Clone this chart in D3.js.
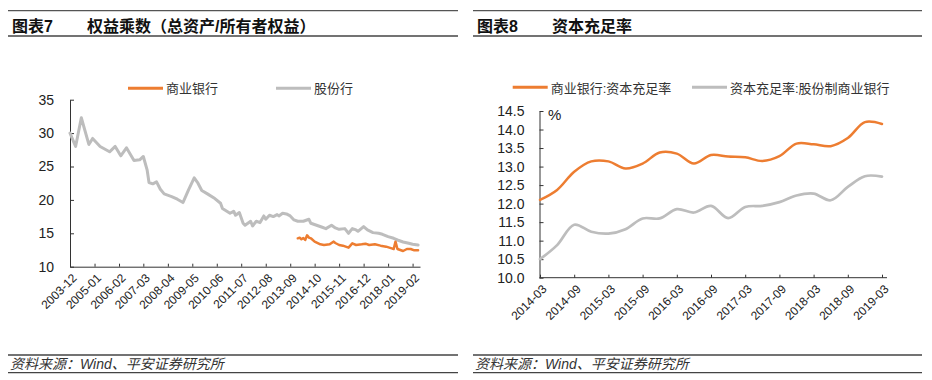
<!DOCTYPE html>
<html><head><meta charset="utf-8">
<script src="https://cdn.jsdelivr.net/npm/d3@7"></script>
<style>
html,body{margin:0;padding:0;background:#fff;}
svg{display:block;}
text{font-family:"Liberation Sans",Arial,"Noto Sans CJK SC",sans-serif;}
</style></head><body>
<svg id="c" width="932" height="380"></svg>
<script>
// ---------- Chart 7 data (monthly) ----------
const stockMonths = ["2003-12","2004-03","2004-06","2004-10","2004-12","2005-04","2005-09","2005-12","2006-03","2006-06","2006-10","2007-01","2007-03","2007-05","2007-06","2007-08","2007-10","2007-12","2008-02","2008-06","2008-09","2008-12","2009-03","2009-06","2009-08","2009-10","2010-01","2010-05","2010-08","2010-09","2011-01","2011-03","2011-04","2011-06","2011-08","2011-09","2011-12","2012-01","2012-03","2012-05","2012-07","2012-08","2012-10","2012-12","2013-02","2013-03","2013-05","2013-07","2013-09","2013-11","2014-01","2014-04","2014-07","2014-08","2014-11","2015-02","2015-04","2015-07","2015-09","2015-11","2016-02","2016-04","2016-06","2016-08","2016-09","2016-12","2017-02","2017-05","2017-08","2017-10","2018-01","2018-04","2018-06","2018-09","2018-12","2019-02","2019-05"];
const stockValues = [30.0,28.0,32.3,28.3,29.2,28.0,27.2,28.0,26.6,27.8,25.9,26.0,26.5,24.5,22.6,22.4,22.7,21.6,20.9,20.5,20.1,19.6,21.5,23.3,22.5,21.4,20.9,20.2,19.5,18.7,18.0,18.3,17.7,18.1,16.5,16.2,16.8,16.1,16.8,16.6,17.6,17.1,17.7,17.5,17.8,17.6,18.0,17.9,17.6,17.0,16.8,16.8,17.1,16.5,16.2,15.9,15.7,16.2,15.8,15.6,15.7,15.0,15.7,15.5,15.3,16.0,15.5,15.1,15.0,14.85,14.5,14.25,14.0,13.7,13.5,13.35,13.25];
const commMonths = ["2014-01","2014-02","2014-03","2014-04","2014-05","2014-06","2014-07","2014-08","2014-10","2015-01","2015-03","2015-06","2015-08","2015-09","2015-11","2016-01","2016-04","2016-06","2016-08","2016-11","2017-01","2017-03","2017-06","2017-09","2017-12","2018-03","2018-04","2018-05","2018-06","2018-09","2018-11","2019-01","2019-03","2019-05"];
const commValues = [14.25,14.35,14.1,14.3,14.0,14.7,14.35,14.25,13.75,13.35,13.25,13.35,13.75,13.55,13.25,13.15,12.85,13.5,13.25,13.35,13.45,13.25,13.35,13.15,13.0,12.75,12.65,13.75,12.65,12.35,12.65,12.65,12.45,12.45];
const leftTickLabels = ["2003-12","2005-01","2006-02","2007-03","2008-04","2009-05","2010-06","2011-07","2012-08","2013-09","2014-10","2015-11","2016-12","2018-01","2019-02"];
const leftYTicks = [10,15,20,25,30,35];

// ---------- Chart 8 data (quarterly) ----------
const quarters = ["2014-03","2014-06","2014-09","2014-12","2015-03","2015-06","2015-09","2015-12","2016-03","2016-06","2016-09","2016-12","2017-03","2017-06","2017-09","2017-12","2018-03","2018-06","2018-09","2018-12","2019-03"];
const carComm = [12.1,12.37,12.86,13.14,13.14,12.95,13.08,13.38,13.35,13.08,13.31,13.27,13.25,13.15,13.28,13.62,13.6,13.55,13.77,14.2,14.15];
const carStock = [10.5,10.88,11.43,11.24,11.19,11.31,11.6,11.6,11.85,11.76,11.94,11.61,11.91,11.94,12.04,12.22,12.27,12.09,12.45,12.74,12.73];
const rightTickLabels = ["2014-03","2014-09","2015-03","2015-09","2016-03","2016-09","2017-03","2017-09","2018-03","2018-09","2019-03"];
const rightYTicks = [10,10.5,11,11.5,12,12.5,13,13.5,14,14.5];

const ORANGE = "#ED7D31", GRAY = "#BDBDBD", INK = "#222";
const svg = d3.select("#c");
const parseM = d3.timeParse("%Y-%m");

// ---------- frames: titles and footers ----------
function frame(x0, x1, fig, title) {
  svg.append("line").attr("x1",x0).attr("x2",x1).attr("y1",10.7).attr("y2",10.7).attr("stroke","#555").attr("stroke-width",1.2);
  svg.append("line").attr("x1",x0).attr("x2",x1).attr("y1",36).attr("y2",36).attr("stroke","#444").attr("stroke-width",1.4);
  svg.append("text").attr("x",x0+4).attr("y",32).attr("font-size",16).attr("font-weight","bold").attr("fill","#111").text(fig);
  svg.append("text").attr("x",x0+79).attr("y",32).attr("font-size",16).attr("font-weight","bold").attr("fill","#111").text(title);
  svg.append("line").attr("x1",x0).attr("x2",x1).attr("y1",355).attr("y2",355).attr("stroke","#444").attr("stroke-width",1.4);
  svg.append("line").attr("x1",x0).attr("x2",x1).attr("y1",372.7).attr("y2",372.7).attr("stroke","#444").attr("stroke-width",1.2);
  svg.append("text").attr("x",x0+2).attr("y",369).attr("font-size",14).attr("font-style","italic").attr("fill","#333").text("资料来源：Wind、平安证券研究所");
}
frame(8, 458, "图表7", "权益乘数（总资产/所有者权益）");
frame(473, 922, "图表8", "资本充足率");

function styleAxis(g, size) {
  g.attr("font-size", null).attr("font-family", null);
  g.selectAll("path,line").attr("stroke", "#333");
  g.selectAll("text").attr("fill", INK).attr("font-size", size);
}

// ---------- Chart 7 ----------
const xL = d3.scaleTime().domain([parseM("2003-12"), parseM("2019-06")]).range([70, 420]);
const yL = d3.scaleLinear().domain([10, 35]).range([266.7, 99.7]);

const gLX = svg.append("g").attr("transform","translate(0,266.7)")
  .call(d3.axisBottom(xL).tickValues(leftTickLabels.map(parseM)).tickFormat(d3.timeFormat("%Y-%m")).tickSizeInner(-3).tickSizeOuter(0));
styleAxis(gLX, 12);
gLX.selectAll("text").attr("x",0).attr("y",0).attr("dy",0).attr("text-anchor","end").attr("transform","translate(7,12) rotate(-45)");

const gLY = svg.append("g").attr("transform","translate(70,0)")
  .call(d3.axisLeft(yL).tickValues(leftYTicks).tickSizeInner(-4).tickSizeOuter(0).tickPadding(16));
styleAxis(gLY, 14);

const lineL = d3.line().x(d => xL(d[0])).y(d => yL(d[1]));
svg.append("path").attr("d", lineL(stockMonths.map((m,i) => [parseM(m), stockValues[i]])))
  .attr("fill","none").attr("stroke",GRAY).attr("stroke-width",3).attr("stroke-linejoin","round").attr("stroke-linecap","round");
svg.append("path").attr("d", lineL(commMonths.map((m,i) => [parseM(m), commValues[i]])))
  .attr("fill","none").attr("stroke",ORANGE).attr("stroke-width",2.5).attr("stroke-linejoin","round").attr("stroke-linecap","round");

// legend 7
const legL = [["商业银行", ORANGE, 128], ["股份行", GRAY, 276]];
legL.forEach(([t,c,x]) => {
  svg.append("line").attr("x1",x).attr("x2",x+35).attr("y1",88.3).attr("y2",88.3).attr("stroke",c).attr("stroke-width",3);
  svg.append("text").attr("x",x+38).attr("y",93).attr("font-size",13).attr("fill","#333").text(t);
});

// ---------- Chart 8 ----------
const xR = d3.scalePoint().domain(quarters).range([540, 882]);
const yR = d3.scaleLinear().domain([10, 14.5]).range([277.7, 111]);

const gRX = svg.append("g").attr("transform","translate(0,277.7)")
  .call(d3.axisBottom(xR).tickValues(rightTickLabels).tickSizeInner(-3).tickSizeOuter(0));
styleAxis(gRX, 12);
gRX.select(".domain").attr("d","M539.5,0H887");
gRX.selectAll("text").attr("x",0).attr("y",0).attr("dy",0).attr("text-anchor","end").attr("transform","translate(7,12) rotate(-45)");

const gRY = svg.append("g").attr("transform","translate(539.5,0)")
  .call(d3.axisLeft(yR).tickValues(rightYTicks).tickFormat(d3.format(".1f")).tickSizeInner(-4).tickSizeOuter(0).tickPadding(15));
styleAxis(gRY, 14);

svg.append("text").attr("x",548).attr("y",120).attr("font-size",15).attr("fill",INK).text("%");

const lineR = d3.line().x(d => xR(d[0])).y(d => yR(d[1])).curve(d3.curveCatmullRom.alpha(0.5));
svg.append("path").attr("d", lineR(quarters.map((q,i) => [q, carStock[i]])))
  .attr("fill","none").attr("stroke",GRAY).attr("stroke-width",2.7).attr("stroke-linecap","round");
svg.append("path").attr("d", lineR(quarters.map((q,i) => [q, carComm[i]])))
  .attr("fill","none").attr("stroke",ORANGE).attr("stroke-width",2.5).attr("stroke-linecap","round");

const legR = [["商业银行:资本充足率", ORANGE, 512.7], ["资本充足率:股份制商业银行", GRAY, 692]];
legR.forEach(([t,c,x]) => {
  svg.append("line").attr("x1",x).attr("x2",x+35).attr("y1",87.3).attr("y2",87.3).attr("stroke",c).attr("stroke-width",3);
  svg.append("text").attr("x",x+38).attr("y",92.5).attr("font-size",13).attr("fill","#333").text(t);
});
</script>
</body></html>
